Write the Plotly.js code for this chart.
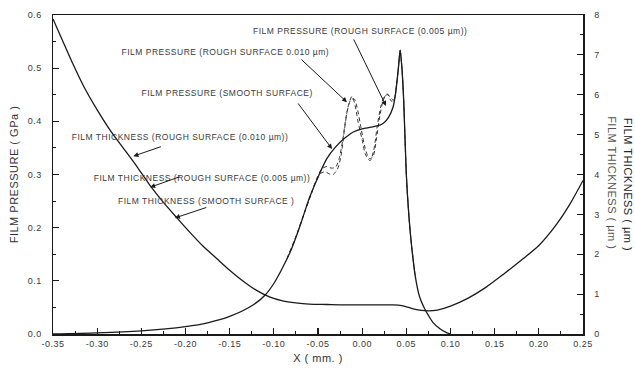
<!DOCTYPE html>
<html>
<head>
<meta charset="utf-8">
<script src="https://cdn.plot.ly/plotly-3.0.1.min.js"></script>
<style>
  html, body { margin: 0; padding: 0; background: #fff; }
  #chart { width: 635px; height: 370px; }
  .main-svg text { letter-spacing: 0.5px; }
</style>
</head>
<body>
<div id="chart"></div>
<script>
// Film pressure along the contact, smooth surface (GPa)
const xPressure = [-0.35, -0.30, -0.25, -0.20, -0.175, -0.15, -0.125, -0.11, -0.10, -0.09,
  -0.08, -0.07, -0.06, -0.05, -0.04, -0.03, -0.02, -0.01, 0.00, 0.01,
  0.02, 0.025, 0.03, 0.035, 0.038, 0.041, 0.043, 0.045, 0.047, 0.050,
  0.053, 0.056, 0.060, 0.065, 0.070, 0.075, 0.080, 0.088, 0.095, 0.100];
const pSmooth = [0.000, 0.002, 0.006, 0.014, 0.021, 0.033, 0.053, 0.073, 0.095, 0.125,
  0.160, 0.205, 0.255, 0.295, 0.330, 0.352, 0.368, 0.380, 0.386, 0.389,
  0.393, 0.398, 0.408, 0.427, 0.455, 0.500, 0.534, 0.500, 0.440, 0.300,
  0.220, 0.165, 0.110, 0.070, 0.050, 0.035, 0.022, 0.010, 0.003, 0.000];

// Film pressure, rough surface 0.010 um
const xRough010 = [-0.085, -0.075, -0.065, -0.058, -0.052, -0.047, -0.042, -0.037, -0.033, -0.028,
  -0.024, -0.020, -0.016, -0.0115, -0.008, -0.0045, 0.000, 0.004, 0.009, 0.013,
  0.017, 0.021, 0.025, 0.029, 0.033, 0.036, 0.039, 0.041, 0.043, 0.045,
  0.047, 0.050, 0.053, 0.056, 0.060];
const pRough010 = [0.142, 0.183, 0.230, 0.262, 0.288, 0.302, 0.305, 0.301, 0.300, 0.310,
  0.335, 0.385, 0.427, 0.447, 0.430, 0.398, 0.365, 0.337, 0.326, 0.345,
  0.390, 0.427, 0.447, 0.450, 0.438, 0.440, 0.470, 0.500, 0.534, 0.500,
  0.440, 0.300, 0.220, 0.165, 0.110];

// Film pressure, rough surface 0.005 um
const xRough005 = [-0.085, -0.075, -0.065, -0.058, -0.052, -0.046, -0.040, -0.035, -0.030, -0.026,
  -0.022, -0.018, -0.013, -0.009, -0.005, -0.001, 0.003, 0.008, 0.012, 0.016,
  0.020, 0.024, 0.028, 0.032, 0.036, 0.039, 0.041, 0.043, 0.045, 0.047,
  0.050, 0.053, 0.056, 0.060];
const pRough005 = [0.142, 0.183, 0.230, 0.262, 0.290, 0.310, 0.315, 0.312, 0.314, 0.330,
  0.365, 0.410, 0.440, 0.442, 0.420, 0.385, 0.352, 0.330, 0.333, 0.365,
  0.410, 0.440, 0.452, 0.445, 0.440, 0.470, 0.500, 0.534, 0.500, 0.440,
  0.300, 0.220, 0.165, 0.110];

// Film thickness along the contact (um)
const xThickness = [-0.35, -0.34, -0.327, -0.315, -0.30, -0.285, -0.27, -0.255, -0.24, -0.225,
  -0.21, -0.195, -0.18, -0.165, -0.15, -0.135, -0.12, -0.105, -0.09, -0.075,
  -0.06, -0.04, -0.02, 0.00, 0.02, 0.035, 0.045, 0.055, 0.065, 0.075,
  0.085, 0.10, 0.12, 0.14, 0.16, 0.18, 0.20, 0.22, 0.235, 0.25];
const hSmooth = [7.90, 7.40, 6.75, 6.20, 5.62, 5.10, 4.65, 4.20, 3.72, 3.30,
  2.92, 2.55, 2.20, 1.90, 1.60, 1.33, 1.10, 0.93, 0.83, 0.78,
  0.75, 0.74, 0.73, 0.73, 0.73, 0.73, 0.71, 0.65, 0.60, 0.58,
  0.60, 0.70, 0.90, 1.17, 1.50, 1.85, 2.22, 2.75, 3.25, 3.85];

// Tick labels
const xTickVals = [-0.35, -0.30, -0.25, -0.20, -0.15, -0.10, -0.05, 0.00, 0.05, 0.10, 0.15, 0.20, 0.25];
const xTickText = ['-0.35', '-0.30', '-0.25', '-0.20', '-0.15', '-0.10', '-0.05', '0.00', '0.05', '0.10', '0.15', '0.20', '0.25'];
const pTickVals = [0.0, 0.1, 0.2, 0.3, 0.4, 0.5, 0.6];
const pTickText = ['0.0', '0.1', '0.2', '0.3', '0.4', '0.5', '0.6'];
const hTickVals = [0, 1, 2, 3, 4, 5, 6, 7, 8];
const hTickText = ['0', '1', '2', '3', '4', '5', '6', '7', '8'];

// Curve labels: text, text centre (x, pressure), arrow tip (x, value, axis), arrow tail offset in px
const labelText = [
  'FILM PRESSURE (ROUGH SURFACE (0.005 \u00b5m))',
  'FILM PRESSURE (ROUGH SURFACE 0.010 \u00b5m)',
  'FILM PRESSURE (SMOOTH SURFACE)',
  'FILM THICKNESS (ROUGH SURFACE (0.010 \u00b5m))',
  'FILM THICKNESS (ROUGH SURFACE (0.005 \u00b5m))',
  'FILM THICKNESS (SMOOTH SURFACE )'
];
const labelX = [-0.0024, -0.1547, -0.1525, -0.2062, -0.1813, -0.1757];
const labelY = [0.569, 0.530, 0.453, 0.370, 0.293, 0.250];
const arrowX = [0.027, -0.0172, -0.0341, -0.259, -0.240, -0.212];
const arrowY = [0.429, 0.436, 0.348, 4.46, 3.68, 2.91];
const arrowAxis = ['y', 'y', 'y', 'y2', 'y2', 'y2'];
const arrowTailDx = [-33, -47, -35, 29, 31, 33];
const arrowTailDy = [-68, -44, -47, -10, -11, -11];

const ink = '#1a1a1a';
const textInk = '#3a3a3a';
const fontFamily = '"Liberation Sans", Arial, Helvetica, sans-serif';

const traces = [
  { x: xThickness, y: hSmooth, yaxis: 'y2', type: 'scatter', mode: 'lines',
    line: { color: ink, width: 1.3, shape: 'spline', smoothing: 0.8 } },
  { x: xRough010, y: pRough010, type: 'scatter', mode: 'lines',
    line: { color: '#333', width: 1, dash: '4px,3px', shape: 'spline', smoothing: 0.8 } },
  { x: xRough005, y: pRough005, type: 'scatter', mode: 'lines',
    line: { color: '#333', width: 1, dash: '4px,3px', shape: 'spline', smoothing: 0.8 } },
  { x: xPressure, y: pSmooth, type: 'scatter', mode: 'lines',
    line: { color: ink, width: 1.3, shape: 'spline', smoothing: 0.7 } }
];

const annotations = [];
for (let i = 0; i < labelText.length; i++) {
  annotations.push({
    text: labelText[i], x: labelX[i], y: labelY[i], xref: 'x', yref: 'y',
    showarrow: false, xanchor: 'center', yanchor: 'middle',
    font: { family: fontFamily, size: 8.5, color: textInk }
  });
  annotations.push({
    text: '', x: arrowX[i], y: arrowY[i], xref: 'x', yref: arrowAxis[i],
    showarrow: true, ax: arrowTailDx[i], ay: arrowTailDy[i],
    arrowhead: 2, arrowsize: 1, arrowwidth: 1, arrowcolor: ink, standoff: 0
  });
}
// Right axis titles
annotations.push({
  text: 'FILM THICKNESS ( \u00b5m )', xref: 'paper', yref: 'paper', x: 1.053, y: 0.475,
  textangle: 90, showarrow: false, xanchor: 'center', yanchor: 'middle',
  font: { family: fontFamily, size: 11, color: '#555' }
});
annotations.push({
  text: 'FILM THICKNESS ( \u00b5m )', xref: 'paper', yref: 'paper', x: 1.085, y: 0.47,
  textangle: 90, showarrow: false, xanchor: 'center', yanchor: 'middle',
  font: { family: fontFamily, size: 11, color: '#222' }
});

const layout = {
  width: 635, height: 370,
  margin: { l: 53, r: 52, t: 15, b: 36, pad: 0 },
  paper_bgcolor: '#fff', plot_bgcolor: '#fff',
  showlegend: false,
  font: { family: fontFamily, size: 9, color: textInk },
  xaxis: {
    range: [-0.35, 0.25], tickvals: xTickVals, ticktext: xTickText,
    ticks: 'inside', ticklen: 6, tickwidth: 1.2, tickcolor: ink,
    minor: { dtick: 0.025, ticks: 'inside', ticklen: 3, tickwidth: 1, tickcolor: ink },
    showline: true, linecolor: ink, linewidth: 1.5, mirror: true,
    showgrid: false, zeroline: false, ticklabelstandoff: 1,
    title: { text: 'X ( mm. )', font: { size: 11, color: '#333' }, standoff: 6 }
  },
  yaxis: {
    range: [0, 0.6], tickvals: pTickVals, ticktext: pTickText,
    ticks: 'inside', ticklen: 6, tickwidth: 1.2, tickcolor: ink,
    minor: { dtick: 0.05, ticks: 'inside', ticklen: 3, tickwidth: 1, tickcolor: ink },
    showline: true, linecolor: ink, linewidth: 1.5,
    showgrid: false, zeroline: false, ticklabelstandoff: 8,
    title: { text: 'FILM PRESSURE ( GPa )', font: { size: 11, color: '#333' }, standoff: 8 }
  },
  yaxis2: {
    range: [0, 8], overlaying: 'y', side: 'right',
    tickvals: hTickVals, ticktext: hTickText,
    ticks: 'inside', ticklen: 6, tickwidth: 1.2, tickcolor: ink,
    minor: { dtick: 0.5, ticks: 'inside', ticklen: 3, tickwidth: 1, tickcolor: ink },
    showline: true, linecolor: ink, linewidth: 1.5,
    showgrid: false, zeroline: false, ticklabelstandoff: 8
  },
  annotations: annotations
};

Plotly.newPlot('chart', traces, layout, { displayModeBar: false, staticPlot: true });
</script>
</body>
</html>
